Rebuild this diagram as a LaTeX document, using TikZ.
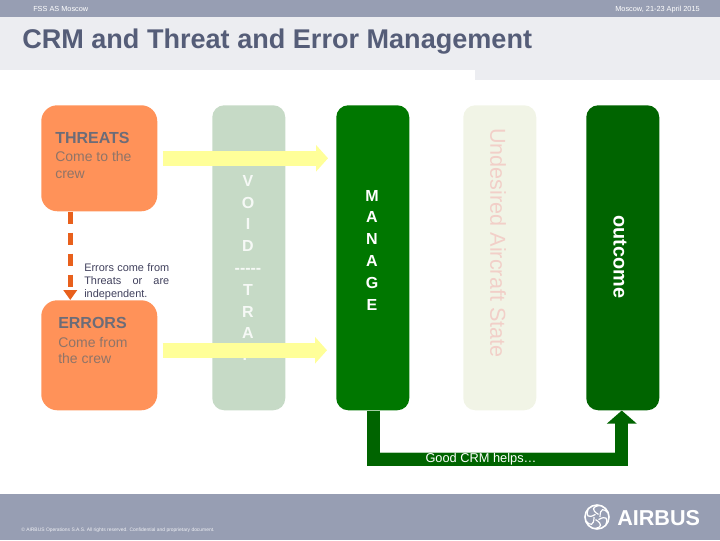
\documentclass[tikz,border=0pt]{standalone}
\usepackage{fontspec}
\setmainfont{Liberation Sans}
\usetikzlibrary{arrows.meta,calc}
\definecolor{bandc}{HTML}{979EB3}
\definecolor{titleb}{HTML}{ECEDF1}
\definecolor{titlec}{HTML}{555D78}
\definecolor{orangeb}{HTML}{FF9259}
\definecolor{avoidb}{HTML}{C6DAC6}
\definecolor{manageb}{HTML}{007700}
\definecolor{outb}{HTML}{006400}
\definecolor{undb}{HTML}{F1F4E6}
\definecolor{undt}{HTML}{F2CFC8}
\definecolor{yell}{HTML}{FFFF99}
\definecolor{dashc}{HTML}{E8601C}
\definecolor{headt}{HTML}{6C6C78}
\definecolor{bodyt}{HTML}{8F7468}
\definecolor{errt}{HTML}{40405C}
\newcommand{\fsz}[2]{\fontsize{#1pt}{#2pt}\selectfont}
\tikzset{
  x=0.75pt,y=-0.75pt,
  col/.style={rounded corners=9pt,minimum width=54.75pt,minimum height=228.75pt,inner sep=0pt,anchor=north west,draw=none},
  ora/.style={rounded corners=12pt,minimum width=87pt,inner sep=0pt,anchor=north west,fill=orangeb},
  txt/.style={inner sep=0pt,anchor=base west},
  yarrow/.style={yell,line width=11.25pt,-{Triangle[length=9pt,width=19.5pt]}},
  stack/.style={inner sep=0pt,align=center,font=\fsz{12}{16.35}\bfseries},
}
\begin{document}
\begin{tikzpicture}
\useasboundingbox (0,0) rectangle (720,540);
% bands
\fill[titleb] (0,17) rectangle (720,70);
\fill[titleb] (475,70) rectangle (720,80);
\fill[bandc] (0,0) rectangle (720,17);
\fill[bandc] (0,494) rectangle (720,540);
\node[txt,text=white] (hl) at (33,11) {\fsz{5.5}{6}FSS AS Moscow};
\node[inner sep=0pt,anchor=base east,text=white] (hr) at (700,11) {\fsz{5.5}{6}Moscow, 21-23 April 2015};
\node[txt,text=titlec] (title) at (22,48) {\fsz{20.3}{24}\bfseries CRM and Threat and Error Management};
% boxes
\node[ora,minimum height=79.5pt] (threats) at (41,105) {};
\node[ora,minimum height=82.5pt] (errors) at (41,300) {};
\node[col,fill=avoidb] (avoid) at (212,105) {};
\node[col,fill=manageb] (manage) at (336,105) {};
\node[col,fill=undb] (und) at (463,105) {};
\node[col,fill=outb] (out) at (586,105) {};
% box texts
\node[txt,text=headt] (t1) at (55,143) {\fsz{12}{14}\bfseries THREATS};
\node[txt,text=bodyt] (t2) at (55,161) {\fsz{10.5}{12}Come to the};
\node[txt,text=bodyt] (t3) at (55,178) {\fsz{10.5}{12}crew};
\node[txt,text=headt] (e1) at (58,328) {\fsz{12}{14}\bfseries ERRORS};
\node[txt,text=bodyt] (e2) at (58,347) {\fsz{10.5}{12}Come from};
\node[txt,text=bodyt] (e3) at (58,363) {\fsz{10.5}{12}the crew};
\node[txt,text=errt] (n1) at (84,271) {\fsz{8.2}{10}\hbox to 63.75pt{Errors\hfil come\hfil from}};
\node[txt,text=errt] (n2) at (84,284) {\fsz{8.2}{10}\hbox to 63.75pt{Threats\hfil or\hfil are}};
\node[txt,text=errt] (n3) at (84,297) {\fsz{8.2}{10}independent.};
% column letters
\node[stack,text=white!85!avoidb] (avtxt) at (248,257) {A\\V\\O\\I\\D\\{-}{-}{-}{-}{-}\\T\\R\\A\\P};
\node[stack,text=white] (mtxt) at (372,250) {M\\A\\N\\A\\G\\E};
\node[rotate=-90,inner sep=0pt,text=undt] (utxt) at (498,243) {\fsz{16.2}{18}Undesired Aircraft State};
\node[rotate=-90,inner sep=0pt,text=white] (otxt) at (620,257) {\fsz{14.9}{18}\bfseries outcome};
% yellow arrows
\draw[yarrow] ([xshift=3.75pt]threats.east) -- ([xshift=-6pt]threats.east -| manage.west);
\draw[yarrow] ([xshift=3.75pt,yshift=3.75pt]errors.east) -- ([xshift=-6.75pt,yshift=3.75pt]errors.east -| manage.west);
% dashed connector
\draw[dashc,line width=3.75pt,dash pattern=on 9.5pt off 6.25pt,-{Triangle[length=7.5pt,width=10pt]}] ([xshift=-21.75pt]threats.south) -- ([xshift=-21.75pt]errors.north);
% CRM connector
\coordinate (c1) at ($(manage.south)+(1,48.5)$);
\coordinate (c2) at ($(out.south)+(-1,48.5)$);
\draw[outb,line width=9.75pt,line join=miter,-{Triangle[length=9.75pt,width=21.75pt]}] ([xshift=0.75pt]manage.south) -- (c1) -- (c2) -- ([xshift=-0.75pt]out.south);
\draw[white!70!outb,line width=0.3pt] (380,452) -- (615,452);
\node[inner sep=0pt,text=white,anchor=base] (lab) at (481,462) {\fsz{9.6}{11}Good CRM helps…};
% footer
\node[txt,text=white!85!bandc] (foot) at (21,531) {\fsz{3.7}{4}© AIRBUS Operations S.A.S. All rights reserved. Confidential and proprietary document.};
% logo
\begin{scope}[white]
\draw[line width=1.2pt] (597,517) circle[radius=12];
\foreach \a in {0,60,...,300}{
  \draw[line width=0.9pt,rotate around={\a:(597,517)}] (597,517) ++(3,0) .. controls (600,508) and (604,508) .. (608,513);
}
\end{scope}
\node[txt,text=white] (logo) at (617,525) {\fsz{16.2}{20}\bfseries AIRBUS};
\end{tikzpicture}
\end{document}
